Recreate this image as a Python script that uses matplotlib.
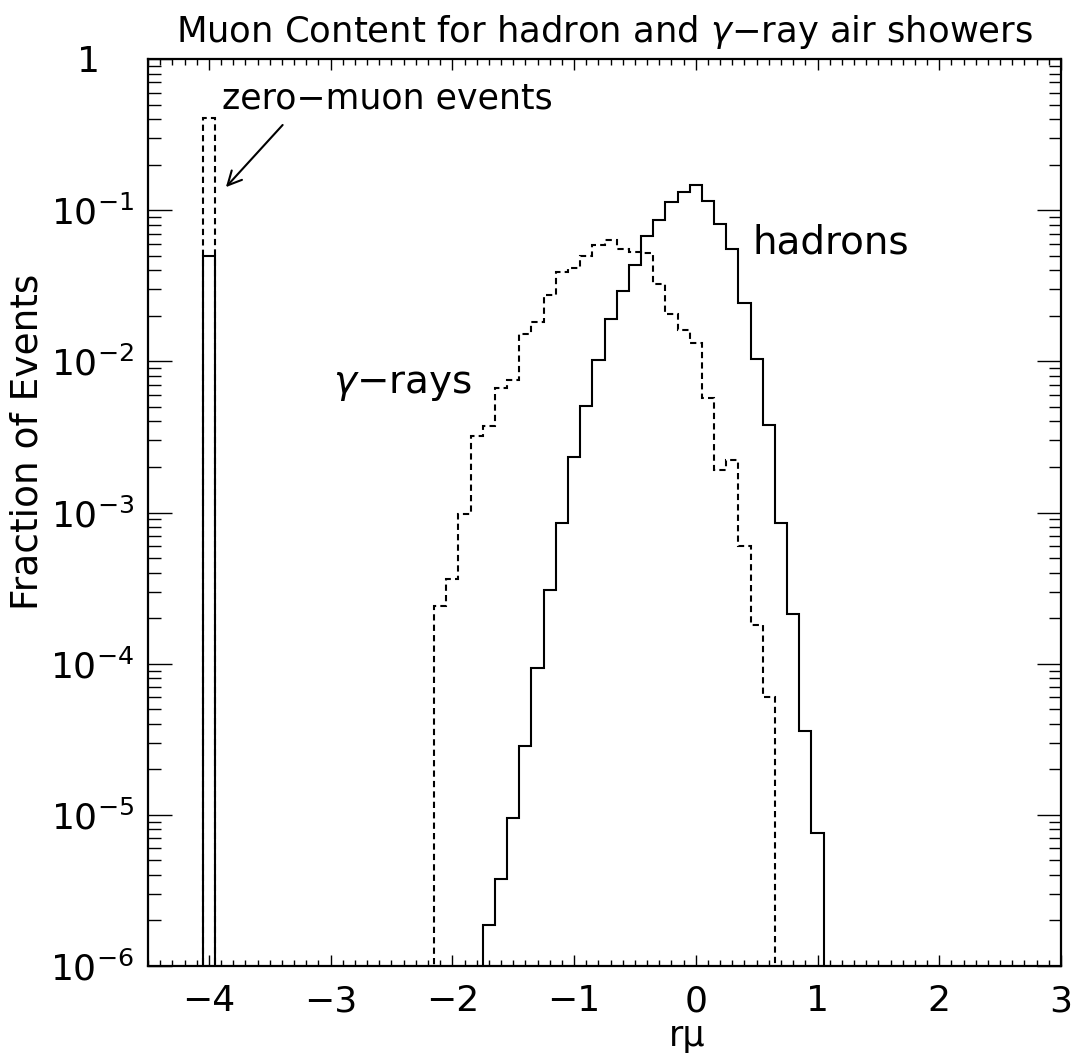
import numpy as np
import matplotlib
matplotlib.use("Agg")
import matplotlib.pyplot as plt
from matplotlib.ticker import MultipleLocator, LogLocator, NullFormatter, FixedLocator, FixedFormatter

# ---------------- data ----------------
bin_width = 0.1
hadron_first_edge = -1.75
gamma_first_edge = -2.15

hadron_frac = [1.87e-6, 3.75e-6, 9.5e-6, 2.84e-5, 9.3e-5, 3.08e-4, 8.5e-4,
               2.32e-3, 5.03e-3, 1.02e-2, 1.91e-2, 2.92e-2, 4.32e-2, 6.73e-2,
               8.59e-2, 0.1135, 0.131, 0.147, 0.115, 0.0816, 0.0552, 0.0243,
               0.01036, 3.8e-3, 8.5e-4, 2.13e-4, 3.6e-5, 7.6e-6]

gamma_frac = [2.42e-4, 3.64e-4, 9.7e-4, 3.19e-3, 3.71e-3, 6.7e-3, 7.48e-3,
              0.0151, 0.0182, 0.0274, 0.0391, 0.0417, 0.0496, 0.0586, 0.0633,
              0.055, 0.0525, 0.0517, 0.0327, 0.0207, 0.016, 0.0132, 5.75e-3,
              1.92e-3, 2.21e-3, 6.04e-4, 1.81e-4, 6.04e-5]

zero_muon_center = -4.0
zero_muon_hadron = 0.05
zero_muon_gamma = 0.41

xtick_vals = [-4, -3, -2, -1, 0, 1, 2, 3]
xtick_labels = ['\u22124', '\u22123', '\u22122', '\u22121', '0', '1', '2', '3']
ytick_vals = [1e-6, 1e-5, 1e-4, 1e-3, 1e-2, 1e-1, 1]
ytick_labels = [r'$10^{-6}$', r'$10^{-5}$', r'$10^{-4}$', r'$10^{-3}$',
                r'$10^{-2}$', r'$10^{-1}$', '1\u2007 ']

title = 'Muon Content for hadron and $\\gamma$\u2212ray air showers'
xlabel = 'r\u03bc'
ylabel = 'Fraction of Events'

# ---------------- figure ----------------
plt.rcParams['font.family'] = ['DejaVu Sans']
plt.rcParams['mathtext.fontset'] = 'dejavusans'

fig = plt.figure(figsize=(10.76, 10.57), dpi=100)
ax = fig.add_axes([148/1076, 1-966/1057, (1061-148)/1076, (966-59)/1057])

h_edges = hadron_first_edge + bin_width*np.arange(len(hadron_frac)+1)
g_edges = gamma_first_edge + bin_width*np.arange(len(gamma_frac)+1)
z_edges = [zero_muon_center - bin_width/2, zero_muon_center + bin_width/2]

ax.stairs(hadron_frac, h_edges, baseline=1e-9, color='black', lw=1.5)
ax.stairs(gamma_frac, g_edges, baseline=1e-9, color='black', lw=1.5,
          linestyle=(0, (3, 2)))
ax.stairs([zero_muon_hadron], z_edges, baseline=1e-9, color='black', lw=1.5)
ax.stairs([zero_muon_gamma], z_edges, baseline=1e-9, color='black', lw=1.5,
          linestyle=(0, (3, 2)))

ax.set_yscale('log')
ax.set_xlim(-4.5, 3)
ax.set_ylim(1e-6, 1)

ax.xaxis.set_major_locator(FixedLocator(xtick_vals))
ax.xaxis.set_major_formatter(FixedFormatter(xtick_labels))
ax.xaxis.set_minor_locator(MultipleLocator(0.1))
ax.yaxis.set_major_locator(FixedLocator(ytick_vals))
ax.yaxis.set_major_formatter(FixedFormatter(ytick_labels))
ax.yaxis.set_minor_locator(LogLocator(base=10, subs=np.arange(2, 10), numticks=20))
ax.yaxis.set_minor_formatter(NullFormatter())

ax.tick_params(which='both', direction='in', top=True, right=True, width=1.0)
ax.tick_params(axis='x', which='major', length=8, labelsize=26, pad=13)
ax.tick_params(axis='x', which='minor', length=4.3)
ax.tick_params(axis='y', which='major', length=17, labelsize=26, pad=10)
ax.tick_params(axis='y', which='minor', length=9)
for s in ax.spines.values():
    s.set_linewidth(1.6)

ax.set_title(title, fontsize=25.5, pad=12)
ax.set_xlabel(xlabel, fontsize=25)
ax.set_ylabel(ylabel, fontsize=27)
ax.xaxis.set_label_coords(0.59, -0.058)
ax.yaxis.set_label_coords(-0.112, 0.578)

ax.text(-3.893, 0.473, 'zero\u2212muon events', fontsize=25, ha='left', va='baseline')
ax.text(0.462, 0.0519, 'hadrons', fontsize=28, ha='left', va='baseline')
ax.text(-2.981, 6.14e-3, '$\\gamma$\u2212rays', fontsize=28, ha='left', va='baseline')
ax.annotate('', xy=(-3.86, 0.142), xytext=(-3.394, 0.366),
            arrowprops=dict(arrowstyle='->', color='black', lw=1.5,
                            mutation_scale=25, shrinkA=0, shrinkB=0))

fig.savefig('out.png', dpi=100)
